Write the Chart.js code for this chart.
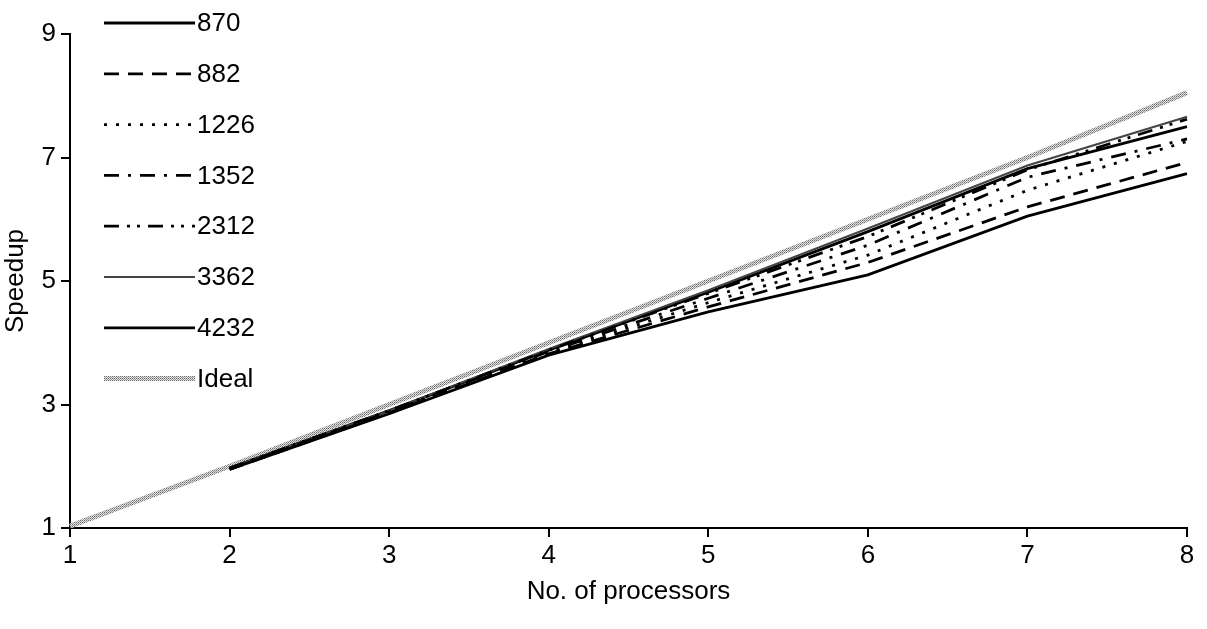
<!DOCTYPE html>
<html>
<head>
<meta charset="utf-8">
<script src="https://cdn.jsdelivr.net/npm/chart.js@4.4.1/dist/chart.umd.min.js"></script>
<style>
  body { margin: 0; background: #fff; }
  canvas { display: block; }
</style>
</head>
<body>
<canvas id="grafico" width="1207" height="629"></canvas>
<script>
// Valores
const procesadores = ['1', '2', '3', '4', '5', '6', '7', '8'];
const s870  = [null, 1.95, 2.85, 3.80, 4.50, 5.10, 6.05, 6.74];
const s882  = [null, 1.95, 2.86, 3.82, 4.58, 5.30, 6.20, 6.92];
const s1226 = [null, 1.96, 2.87, 3.84, 4.65, 5.42, 6.47, 7.26];
const s1352 = [null, 1.96, 2.88, 3.86, 4.72, 5.58, 6.68, 7.30];
const s2312 = [null, 1.97, 2.90, 3.88, 4.80, 5.72, 6.80, 7.62];
const s3362 = [null, 1.97, 2.90, 3.90, 4.85, 5.85, 6.87, 7.66];
const s4232 = [null, 1.97, 2.90, 3.88, 4.82, 5.80, 6.82, 7.50];
const ideal = [1.03, 2, 3, 4, 5, 6, 7, 8.05];
const etiquetasY = [1, 3, 5, 7, 9];

const FUENTE = '"Liberation Sans", Arial, sans-serif';

// trama punteada gris para la linea ideal (como en la figura escaneada)
function trama() {
  const c = document.createElement('canvas');
  c.width = 2; c.height = 2;
  const g = c.getContext('2d');
  g.fillStyle = '#e2e2e2'; g.fillRect(0, 0, 2, 2);
  g.fillStyle = '#6a6a6a'; g.fillRect(0, 0, 1, 1);
  g.fillStyle = '#9a9a9a'; g.fillRect(1, 1, 1, 1);
  return g.createPattern(c, 'repeat');
}

function serie(label, data, dash, color, ancho) {
  return {
    label: label,
    data: data,
    borderColor: color,
    borderWidth: ancho,
    borderDash: dash,
    pointRadius: 0,
    fill: false,
    tension: 0,
    spanGaps: false
  };
}

const datasets = [
  serie('870', s870, [], '#000', 2.8),
  serie('882', s882, [15, 9], '#000', 2.8),
  serie('1226', s1226, [3, 9], '#000', 2.8),
  serie('1352', s1352, [15, 9, 3, 9], '#000', 2.8),
  serie('2312', s2312, [15, 8, 3, 7, 3, 8], '#000', 2.8),
  serie('3362', s3362, [], '#444', 2),
  serie('4232', s4232, [], '#000', 2.8),
  serie('Ideal', ideal, [], trama(), 5)
];

// leyenda dibujada a mano, arriba a la izquierda sobre el grafico
const leyendaPlugin = {
  id: 'leyendaManual',
  afterDraw(chart) {
    const ctx = chart.ctx;
    ctx.save();
    chart.data.datasets.forEach((ds, i) => {
      const y = 23 + i * 50.8;
      ctx.beginPath();
      ctx.setLineDash(ds.borderDash || []);
      ctx.strokeStyle = ds.borderColor;
      ctx.lineWidth = ds.borderWidth;
      ctx.moveTo(104, y);
      ctx.lineTo(195, y);
      ctx.stroke();
      ctx.setLineDash([]);
      ctx.fillStyle = '#000';
      ctx.font = '26px ' + FUENTE;
      ctx.textBaseline = 'middle';
      ctx.fillText(ds.label, 197, y + 1);
    });
    ctx.restore();
  }
};

const ctx = document.getElementById('grafico').getContext('2d');

const options = {
  responsive: false,
  animation: false,
  layout: { padding: { top: 34, right: 20, left: 0, bottom: 22 } },
  plugins: {
    legend: { display: false },
    tooltip: { enabled: false }
  },
  scales: {
    x: {
      type: 'category',
      offset: false,
      grid: { display: true, drawOnChartArea: false, drawTicks: true, tickLength: 9, color: '#000', lineWidth: 2 },
      border: { display: true, color: '#000', width: 2 },
      ticks: { color: '#000', font: { family: FUENTE, size: 26 }, padding: 3, maxRotation: 0 },
      title: { display: true, text: 'No. of processors', color: '#000', font: { family: FUENTE, size: 26 }, padding: { top: 4, bottom: 0 } },
      afterFit(scale) { scale.height = 79; }
    },
    y: {
      min: 1,
      max: 9,
      afterBuildTicks(scale) { scale.ticks = etiquetasY.map(v => ({ value: v })); },
      grid: { display: true, drawOnChartArea: false, drawTicks: true, tickLength: 9, color: '#000', lineWidth: 2 },
      border: { display: true, color: '#000', width: 2 },
      ticks: { color: '#000', font: { family: FUENTE, size: 26 }, padding: 5 },
      title: { display: true, text: 'Speedup', color: '#000', font: { family: FUENTE, size: 26 }, padding: { top: 0, bottom: 0 } },
      afterFit(scale) { scale.width = 70; }
    }
  }
};

new Chart(ctx, {
  type: 'line',
  data: { labels: procesadores, datasets: datasets },
  options: options,
  plugins: [leyendaPlugin]
});
</script>
</body>
</html>
